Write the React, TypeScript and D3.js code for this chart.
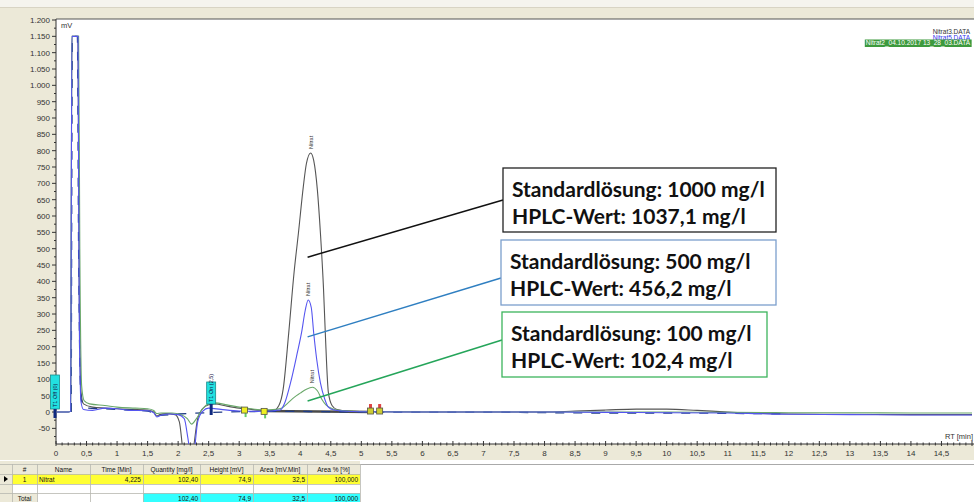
import { useEffect, useRef } from 'react';
import * as d3 from 'd3';

type Pt = [number, number];

// chromatogram traces: [retention time (min), signal (mV)]
const blackTrace: Pt[] = [
  [0, 0], [0.2, 0], [0.24, 2], [0.26, 1150], [0.36, 1150], [0.38, 400], [0.41, 60], [0.45, 25],
  [0.6, 15], [0.8, 12], [1.0, 10], [1.2, 8], [1.5, 6], [1.6, 0], [1.65, -12], [1.7, -8],
  [1.8, -5], [1.95, -8], [2.02, -30], [2.08, -120], [2.2, -200], [2.26, -100], [2.32, -20],
  [2.4, 10], [2.5, 22], [2.6, 25], [2.8, 18], [3.0, 12], [3.2, 8], [3.4, 4], [3.55, 3],
  [3.65, 20], [3.72, 70], [3.81, 240], [3.9, 430], [3.97, 548], [4.05, 690], [4.1, 760],
  [4.17, 793], [4.22, 770], [4.28, 680], [4.33, 548], [4.38, 380], [4.41, 242], [4.46, 60],
  [4.52, 20], [4.6, 8], [4.8, 3], [5.2, 1], [6, 0], [7, 0], [8, 0], [8.5, 3], [9, 6],
  [9.5, 9], [10, 9], [10.5, 5], [11, 0], [11.5, -4], [12, -6], [13, -7], [14, -8], [15, -8],
];

const blueTrace: Pt[] = [
  [0, 0], [0.2, 0], [0.24, 2], [0.26, 1150], [0.36, 1150], [0.38, 300], [0.41, 30], [0.45, 8],
  [0.6, 5], [0.8, 12], [1.0, 10], [1.2, 5], [1.5, 4], [1.6, -2], [1.65, -15], [1.72, -10],
  [1.85, -6], [2.0, -8], [2.1, -20], [2.16, -80], [2.22, -150], [2.27, -110], [2.32, -30],
  [2.4, 2], [2.5, 12], [2.7, 8], [3.0, 3], [3.3, 2], [3.5, 3], [3.6, 5], [3.67, 6],
  [3.75, 30], [3.84, 89], [3.95, 180], [4.02, 242], [4.08, 310], [4.13, 343], [4.18, 320],
  [4.22, 242], [4.27, 160], [4.33, 89], [4.4, 40], [4.46, 15], [4.55, 6], [4.7, 3], [5.0, 1],
  [6, 0], [8, 0], [9, -1], [10, -2], [11, -3], [11.5, -5], [12, -7], [13, -8], [14, -9], [15, -9],
];

const greenTrace: Pt[] = [
  [0, 0], [0.2, 0], [0.24, 2], [0.26, 1150], [0.37, 1150], [0.39, 500], [0.42, 80], [0.46, 35],
  [0.55, 25], [0.8, 20], [1.0, 15], [1.3, 12], [1.5, 10], [1.6, 5], [1.65, -5], [1.72, -3],
  [1.9, -3], [2.05, -8], [2.15, -20], [2.22, -37], [2.3, -20], [2.4, 10], [2.5, 25], [2.6, 28],
  [2.8, 22], [3.0, 15], [3.2, 10], [3.4, 6], [3.6, 8], [3.7, 12], [3.8, 28], [3.9, 45],
  [4.0, 58], [4.1, 70], [4.2, 76], [4.28, 65], [4.35, 40], [4.42, 22], [4.5, 12], [4.6, 6],
  [4.8, 3], [5.2, 1], [6, 0], [8, 0], [10, 0], [11, -1], [12, -2], [13, -2], [14, -3], [15, -3],
];

const navyTrace: Pt[] = [
  [0.25, 0], [0.27, 1150], [0.35, 1150], [0.37, 500], [0.41, 40], [0.5, 12], [0.8, 10],
  [1.2, 6], [1.5, 3], [1.7, -10], [2.0, -6], [3.6, 2], [5.5, 0], [7, 0], [8, -2], [9, -3],
  [10, -3], [11, -4], [12, -6],
];

const integrationBaseline: Pt[] = [[3.4, 3], [5.2, 0]];

const legendNames = ['Nitrat3.DATA', 'Nitrat5.DATA', 'Nitrat2_04.10.2017 13_28_03.DATA'];
const peakLabels: { t: number; v: number; name: string }[] = [
  { t: 4.17, v: 793, name: 'Nitrat' },
  { t: 4.13, v: 343, name: 'Nitrat' },
  { t: 4.2, v: 76, name: 'Nitrat' },
];
const timedEvents = [
  { t: 0, label: 'T1 Off (0)' },
  { t: 2.5, label: 'T1 On (2,5)' },
];
const peakStartMarks = [3.08, 3.4];
const peakEndMarks = [5.15, 5.3];

const annotations = [
  { line1: 'Standardlösung: 1000 mg/l', line2: 'HPLC-Wert: 1037,1 mg/l', anchor: [4.12, 474] as Pt },
  { line1: 'Standardlösung: 500 mg/l', line2: 'HPLC-Wert: 456,2 mg/l', anchor: [4.12, 230] as Pt },
  { line1: 'Standardlösung: 100 mg/l', line2: 'HPLC-Wert: 102,4 mg/l', anchor: [4.12, 34] as Pt },
];

const tableHeaders = ['#', 'Name', 'Time [Min]', 'Quantity [mg/l]', 'Height [mV]', 'Area [mV.Min]', 'Area % [%]'];
const peakRow = ['1', 'Nitrat', '4,225', '102,40', '74,9', '32,5', '100,000'];
const totalRow = ['Total', '', '', '102,40', '74,9', '32,5', '100,000'];

export default function App() {
  const svgRef = useRef<SVGSVGElement>(null);

  useEffect(() => {
    if (!svgRef.current) return;
    const width = 974;
    const height = 502;
    const plot = { left: 56, right: 974, top: 19, bottom: 444 };
    const axisFont = '"Liberation Sans", Arial, sans-serif';

    d3.select(svgRef.current).selectAll('*').remove();
    const svg = d3.select(svgRef.current).attr('width', width).attr('height', height);

    const x = d3.scaleLinear().domain([0, 15]).range([56, 972]);
    const y = d3.scaleLinear().domain([-100, 1200]).range([444.7, 20]);

    const de = d3.formatLocale({ decimal: ',', thousands: '.', grouping: [3], currency: ['', '€'], minus: '-' });
    const yFmt = de.format(',');
    const xFmt = de.format(',~g');

    // window background
    svg.append('rect').attr('width', width).attr('height', height).attr('fill', '#ece9d8');
    svg.append('rect').attr('width', width).attr('height', 7).attr('fill', '#f5f4ee');
    svg.append('line').attr('x1', 0).attr('x2', width).attr('y1', 7.5).attr('y2', 7.5).attr('stroke', '#d8d4c4');

    // plot area
    svg.append('rect')
      .attr('x', plot.left).attr('y', plot.top)
      .attr('width', plot.right - plot.left).attr('height', plot.bottom - plot.top)
      .attr('fill', '#fff');
    svg.append('line')
      .attr('x1', plot.left).attr('x2', plot.right).attr('y1', plot.top).attr('y2', plot.top)
      .attr('stroke', '#555');

    svg.append('defs').append('clipPath').attr('id', 'plotclip')
      .append('rect')
      .attr('x', plot.left + 1).attr('y', plot.top)
      .attr('width', plot.right - plot.left).attr('height', plot.bottom - plot.top);

    // y axis
    const yAxis = svg.append('g').attr('transform', `translate(${plot.left},0)`);
    yAxis.append('line').attr('y1', plot.top).attr('y2', plot.bottom).attr('stroke', '#333');
    d3.range(-50, 1201, 50).forEach(v => {
      yAxis.append('line').attr('x1', -4).attr('x2', 0).attr('y1', y(v)).attr('y2', y(v)).attr('stroke', '#333');
      yAxis.append('text')
        .attr('x', -6).attr('y', y(v) + 3)
        .attr('text-anchor', 'end')
        .attr('font-family', axisFont).attr('font-size', 8).attr('fill', '#333')
        .text(yFmt(v));
    });
    d3.range(-75, 1200, 50).forEach(v => {
      yAxis.append('line').attr('x1', -2).attr('x2', 0).attr('y1', y(v)).attr('y2', y(v)).attr('stroke', '#333');
    });
    svg.append('text')
      .attr('x', plot.left + 5).attr('y', 28)
      .attr('font-family', axisFont).attr('font-size', 7.5).attr('fill', '#333')
      .text('mV');

    // x axis
    const xAxis = svg.append('g').attr('transform', `translate(0,${plot.bottom})`);
    xAxis.append('line').attr('x1', plot.left).attr('x2', plot.right).attr('stroke', '#333');
    d3.range(0, 151).forEach(i => {
      const t = i / 10;
      const major = i % 5 === 0;
      xAxis.append('line')
        .attr('x1', x(t)).attr('x2', x(t))
        .attr('y1', major ? -3 : -1.5).attr('y2', major ? 2 : 1.5)
        .attr('stroke', '#333');
      if (major && t < 15) {
        xAxis.append('text')
          .attr('x', x(t)).attr('y', 12)
          .attr('text-anchor', 'middle')
          .attr('font-family', axisFont).attr('font-size', 8).attr('fill', '#333')
          .text(xFmt(t));
      }
    });
    svg.append('text')
      .attr('x', 973).attr('y', 439)
      .attr('text-anchor', 'end')
      .attr('font-family', axisFont).attr('font-size', 7.5).attr('fill', '#333')
      .text('RT [min]');

    // traces
    const line = d3.line<Pt>().x(d => x(d[0])).y(d => y(d[1])).curve(d3.curveMonotoneX);
    const traces = svg.append('g').attr('clip-path', 'url(#plotclip)');

    traces.append('path').datum(integrationBaseline)
      .attr('fill', 'none').attr('stroke', '#4a4a4a').attr('stroke-width', 2.5)
      .attr('d', d3.line<Pt>().x(d => x(d[0])).y(d => y(d[1])));

    traces.append('path').datum(blackTrace)
      .attr('fill', 'none').attr('stroke', '#555').attr('stroke-width', 1.1).attr('d', line);
    traces.append('path').datum(navyTrace)
      .attr('fill', 'none').attr('stroke', '#1f3c85').attr('stroke-width', 1.3)
      .attr('stroke-dasharray', '9,9').attr('d', line);
    traces.append('path').datum(greenTrace)
      .attr('fill', 'none').attr('stroke', '#6aa86a').attr('stroke-width', 1.1).attr('d', line);
    traces.append('path').datum(blueTrace)
      .attr('fill', 'none').attr('stroke', '#5555f0').attr('stroke-width', 1.1).attr('d', line);

    // peak names
    peakLabels.forEach(p => {
      svg.append('text')
        .attr('transform', `translate(${x(p.t) + 2},${y(p.v) - 4}) rotate(-90)`)
        .attr('font-family', axisFont).attr('font-size', 5.5).attr('fill', '#333')
        .text(p.name);
    });

    // timed events (cyan flags)
    timedEvents.forEach(e => {
      const cx = x(e.t) + (e.t === 0 ? -1 : 2.5);
      const top = e.t === 0 ? 375 : 382;
      const bottom = e.t === 0 ? 409 : 404;
      svg.append('rect')
        .attr('x', cx - 4.5).attr('y', top).attr('width', 9).attr('height', bottom - top)
        .attr('fill', '#22e0e0').attr('stroke', '#1a8a8a').attr('stroke-width', 0.8);
      svg.append('text')
        .attr('transform', `translate(${cx + 2},${bottom - 2}) rotate(-90)`)
        .attr('font-family', axisFont).attr('font-size', 5.5).attr('fill', '#114')
        .text(e.label);
      svg.append('rect')
        .attr('x', cx - 1.5).attr('y', bottom).attr('width', 3).attr('height', e.t === 0 ? 9 : 11)
        .attr('fill', '#102a80');
    });

    // peak start / end markers
    peakStartMarks.forEach((t, i) => {
      const v = i === 0 ? 6 : 2;
      svg.append('rect').attr('x', x(t) + 0.5).attr('y', y(v) + 3).attr('width', 2).attr('height', 4).attr('fill', '#6c6');
      svg.append('rect')
        .attr('x', x(t) - 2.5).attr('y', y(v) - 3).attr('width', 6).attr('height', 6)
        .attr('fill', '#ee2').attr('stroke', '#554').attr('stroke-width', 0.8);
    });
    peakEndMarks.forEach(t => {
      svg.append('rect').attr('x', x(t) - 1.5).attr('y', y(0) - 8).attr('width', 3).attr('height', 4).attr('fill', '#d44');
      svg.append('rect')
        .attr('x', x(t) - 3).attr('y', y(0) - 4).attr('width', 6).attr('height', 6)
        .attr('fill', '#cc3').attr('stroke', '#554').attr('stroke-width', 0.8);
    });

    // legend
    const legendColors = ['#333', '#3333ee', '#fff'];
    legendNames.forEach((name, i) => {
      const t = svg.append('text')
        .attr('x', 970).attr('y', 34 + i * 5.5)
        .attr('text-anchor', 'end')
        .attr('font-family', axisFont).attr('font-size', 6.5)
        .attr('fill', legendColors[i])
        .text(name);
      if (i === 2) {
        const bb = (t.node() as SVGTextElement).getBBox();
        svg.insert('rect', () => t.node())
          .attr('x', bb.x - 1).attr('y', bb.y + 0.5).attr('width', bb.width + 2).attr('height', bb.height - 0.5)
          .attr('fill', '#3d9a3d');
      }
    });

    // annotation boxes with leader lines
    const boxes = [
      { x: 503, y: 168, w: 273, h: 64, stroke: '#222', lead: '#111', end: 200 },
      { x: 501, y: 240, w: 275, h: 65, stroke: '#7b9fcc', lead: '#2f7fc1', end: 278 },
      { x: 502, y: 312, w: 265, h: 65, stroke: '#3cb45c', lead: '#25a55a', end: 340 },
    ];
    annotations.forEach((a, i) => {
      const b = boxes[i];
      svg.append('line')
        .attr('x1', x(a.anchor[0])).attr('y1', y(a.anchor[1]))
        .attr('x2', b.x).attr('y2', b.end)
        .attr('stroke', b.lead).attr('stroke-width', 1.5);
      svg.append('rect')
        .attr('x', b.x).attr('y', b.y).attr('width', b.w).attr('height', b.h)
        .attr('fill', '#fff').attr('stroke', b.stroke).attr('stroke-width', 1.3);
      [a.line1, a.line2].forEach((s, j) => {
        svg.append('text')
          .attr('x', b.x + 9).attr('y', b.y + 29 + j * 27)
          .attr('font-family', 'Lato, "Open Sans", sans-serif').attr('font-weight', 700)
          .attr('font-size', 21).attr('fill', '#111')
          .text(s);
      });
    });

    // results table
    const cols = [12, 37, 90, 143, 200, 253, 307, 360];
    const rowsY = [464, 474, 484, 493, 502];
    svg.append('line').attr('x1', 0).attr('x2', width).attr('y1', 460.5).attr('y2', 460.5).attr('stroke', '#fff');
    svg.append('rect').attr('x', 360).attr('y', 461).attr('width', width - 360).attr('height', 41).attr('fill', '#fff');
    svg.append('rect').attr('x', 37).attr('y', 484).attr('width', 323).attr('height', 18).attr('fill', '#fff');
    svg.append('line').attr('x1', 360).attr('x2', width).attr('y1', 464.5).attr('y2', 464.5).attr('stroke', '#aaa');
    // yellow peak row
    svg.append('rect').attr('x', cols[0]).attr('y', rowsY[1]).attr('width', cols[7] - cols[0]).attr('height', 10).attr('fill', '#ffff33');
    // cyan totals
    svg.append('rect').attr('x', cols[3]).attr('y', rowsY[3]).attr('width', cols[7] - cols[3]).attr('height', 9).attr('fill', '#33ffff');
    svg.append('rect').attr('x', cols[0]).attr('y', rowsY[2]).attr('width', cols[1] - cols[0]).attr('height', 9).attr('fill', '#fff');

    const grid = svg.append('g').attr('stroke', '#b8b8b0').attr('stroke-width', 0.8);
    cols.forEach(c => grid.append('line').attr('x1', c + 0.5).attr('x2', c + 0.5).attr('y1', rowsY[0]).attr('y2', height));
    rowsY.forEach(r => grid.append('line').attr('x1', 0).attr('x2', cols[7]).attr('y1', r + 0.5).attr('y2', r + 0.5));

    const cellText = (row: string[], rowIdx: number, header: boolean) => {
      row.forEach((s, i) => {
        if (!s) return;
        let anchor = 'end';
        let tx = cols[i + 1] - 2;
        if (header || i === 0) { anchor = 'middle'; tx = (cols[i] + cols[i + 1]) / 2; }
        else if (i === 1) { anchor = 'start'; tx = cols[i] + 2; }
        svg.append('text')
          .attr('x', tx).attr('y', rowsY[rowIdx] + 8)
          .attr('text-anchor', anchor)
          .attr('font-family', axisFont).attr('font-size', 6.5).attr('fill', '#111')
          .text(s);
      });
    };
    cellText(tableHeaders, 0, true);
    cellText(peakRow, 1, false);
    cellText(totalRow, 3, false);
    svg.append('path').attr('d', `M4,${rowsY[1] + 2} L8,${rowsY[1] + 5} L4,${rowsY[1] + 8} Z`).attr('fill', '#000');
  }, []);

  return <svg ref={svgRef} style={{ position: 'absolute', left: 0, top: 0, display: 'block' }}></svg>;
}
